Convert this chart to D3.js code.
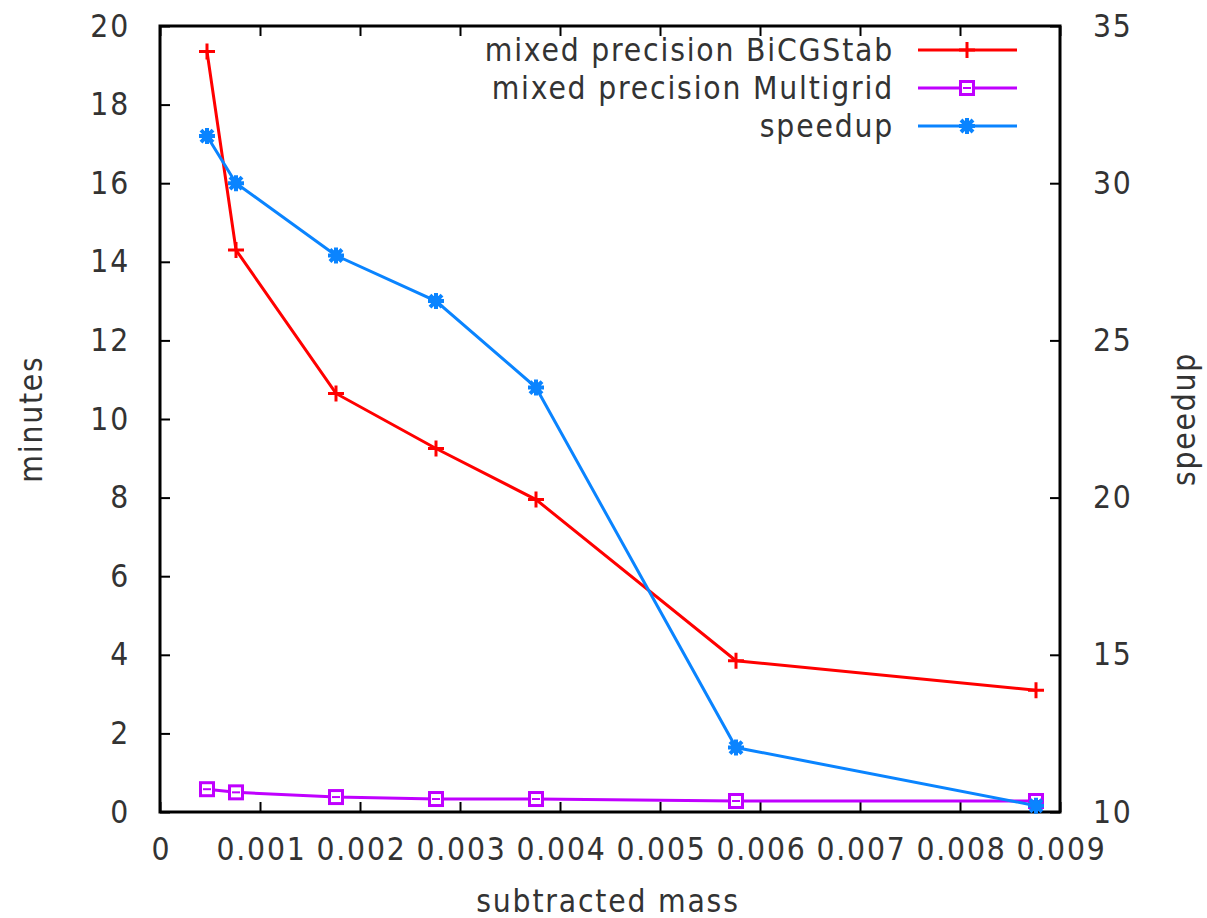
<!DOCTYPE html>
<html>
<head>
<meta charset="utf-8">
<script src="https://cdn.jsdelivr.net/npm/d3@7"></script>
<style>
  body { margin: 0; background: #fff; }
  svg text { font-family: "DejaVu Sans Condensed", "DejaVu Sans", sans-serif; font-stretch: condensed; fill: #333; letter-spacing: 1.8px; }
</style>
</head>
<body>
<div id="chart"></div>
<script>
// subtracted mass values (x)
const masses = [0.00047, 0.00076, 0.00176, 0.00276, 0.00376, 0.00576, 0.00876];
// minutes (left axis)
const bicgstab = [19.35, 14.3, 10.65, 9.25, 7.95, 3.85, 3.1];
const multigrid = [0.58, 0.5, 0.38, 0.33, 0.33, 0.28, 0.28];
// speedup (right axis)
const speedup = [31.5, 30.0, 27.7, 26.25, 23.5, 12.05, 10.2];

const xTicks = [0, 0.001, 0.002, 0.003, 0.004, 0.005, 0.006, 0.007, 0.008, 0.009];
const yTicks = [0, 2, 4, 6, 8, 10, 12, 14, 16, 18, 20];
const y2Ticks = [10, 15, 20, 25, 30, 35];

const seriesNames = ["mixed precision BiCGStab", "mixed precision Multigrid", "speedup"];
const seriesColors = ["#ff0000", "#c000ff", "#0a84ff"];

const width = 1207, height = 918;
const margin = { top: 26, right: 147, bottom: 106, left: 160 };
const innerW = width - margin.left - margin.right;
const innerH = height - margin.top - margin.bottom;
const fontSize = "31.5px";

const svg = d3.select("#chart").append("svg")
    .attr("width", width)
    .attr("height", height);

const g = svg.append("g")
    .attr("transform", "translate(" + margin.left + "," + margin.top + ")");

const x = d3.scaleLinear().domain([0, 0.009]).range([0, innerW]);
const y = d3.scaleLinear().domain([0, 20]).range([innerH, 0]);
const y2 = d3.scaleLinear().domain([10, 35]).range([innerH, 0]);

const fmtX = d => d === 0 ? "0" : d3.format(".3f")(d);

// axes (ticks inward)
const axisStyle = sel => {
    sel.attr("font-family", null).attr("font-size", null);
    sel.select(".domain").remove();
    sel.selectAll(".tick line").attr("stroke", "#000").attr("stroke-width", 2);
    sel.selectAll(".tick text").style("font-size", fontSize).attr("fill", "#333");
};

g.append("g").attr("transform", "translate(0," + innerH + ")")
    .call(d3.axisBottom(x).tickValues(xTicks).tickFormat(fmtX).tickSizeInner(-10))
    .call(axisStyle)
    .selectAll(".tick text").attr("y", 48).attr("dy", 0).attr("dx", 1);
g.append("g")
    .call(d3.axisTop(x).tickValues(xTicks).tickFormat("").tickSizeInner(-10))
    .call(axisStyle);
g.append("g")
    .call(d3.axisLeft(y).tickValues(yTicks).tickSizeInner(-10).tickPadding(30))
    .call(axisStyle);
g.append("g").attr("transform", "translate(" + innerW + ",0)")
    .call(d3.axisRight(y2).tickValues(y2Ticks).tickSizeInner(-10).tickPadding(33))
    .call(axisStyle);

// frame
g.append("rect")
    .attr("width", innerW).attr("height", innerH)
    .attr("fill", "none").attr("stroke", "#000").attr("stroke-width", 3);

// axis titles
svg.append("text")
    .attr("x", 608).attr("y", 912)
    .attr("text-anchor", "middle").style("font-size", fontSize)
    .text("subtracted mass");
svg.append("text")
    .attr("transform", "translate(42," + (margin.top + innerH / 2) + ") rotate(-90)")
    .attr("text-anchor", "middle").style("font-size", fontSize)
    .text("minutes");
svg.append("text")
    .attr("transform", "translate(1195," + (margin.top + innerH / 2) + ") rotate(-90)")
    .attr("text-anchor", "middle").style("font-size", fontSize)
    .text("speedup");

const line = d3.line();

function drawMarker(sel, type, color) {
    if (type === 0) {
        sel.append("path").attr("d", "M-8,0H8M0,-8V8")
            .attr("stroke", color).attr("stroke-width", 3).attr("fill", "none");
    } else if (type === 1) {
        sel.append("rect").attr("x", -6.5).attr("y", -6.5).attr("width", 13).attr("height", 13)
            .attr("stroke", color).attr("stroke-width", 3).attr("fill", "#fff");
        sel.append("path").attr("d", "M-4,0H4")
            .attr("stroke", color).attr("stroke-width", 2);
    } else {
        sel.append("path").attr("d", "M-8,0H8M0,-8V8M-6,-6L6,6M-6,6L6,-6")
            .attr("stroke", color).attr("stroke-width", 4).attr("fill", "none");
        sel.append("rect").attr("x", -5).attr("y", -5).attr("width", 10).attr("height", 10)
            .attr("fill", color);
    }
}

const series = [
    { vals: bicgstab, scale: y },
    { vals: multigrid, scale: y },
    { vals: speedup, scale: y2 }
];

series.forEach((s, i) => {
    const pts = masses.map((m, j) => [x(m), s.scale(s.vals[j])]);
    g.append("path")
        .attr("d", line(pts))
        .attr("fill", "none")
        .attr("stroke", seriesColors[i])
        .attr("stroke-width", 3);
    pts.forEach(p => {
        const mk = g.append("g").attr("transform", "translate(" + p[0] + "," + p[1] + ")");
        drawMarker(mk, i, seriesColors[i]);
    });
});

// legend
const legend = svg.append("g");
seriesNames.forEach((name, i) => {
    const ly = 50 + i * 38;
    legend.append("text")
        .attr("x", 894).attr("y", ly).attr("dy", "0.35em")
        .attr("text-anchor", "end").style("font-size", fontSize)
        .text(name);
    legend.append("line")
        .attr("x1", 918).attr("x2", 1017).attr("y1", ly).attr("y2", ly)
        .attr("stroke", seriesColors[i]).attr("stroke-width", 3);
    const mk = legend.append("g").attr("transform", "translate(967," + ly + ")");
    drawMarker(mk, i, seriesColors[i]);
});
</script>
</body>
</html>
